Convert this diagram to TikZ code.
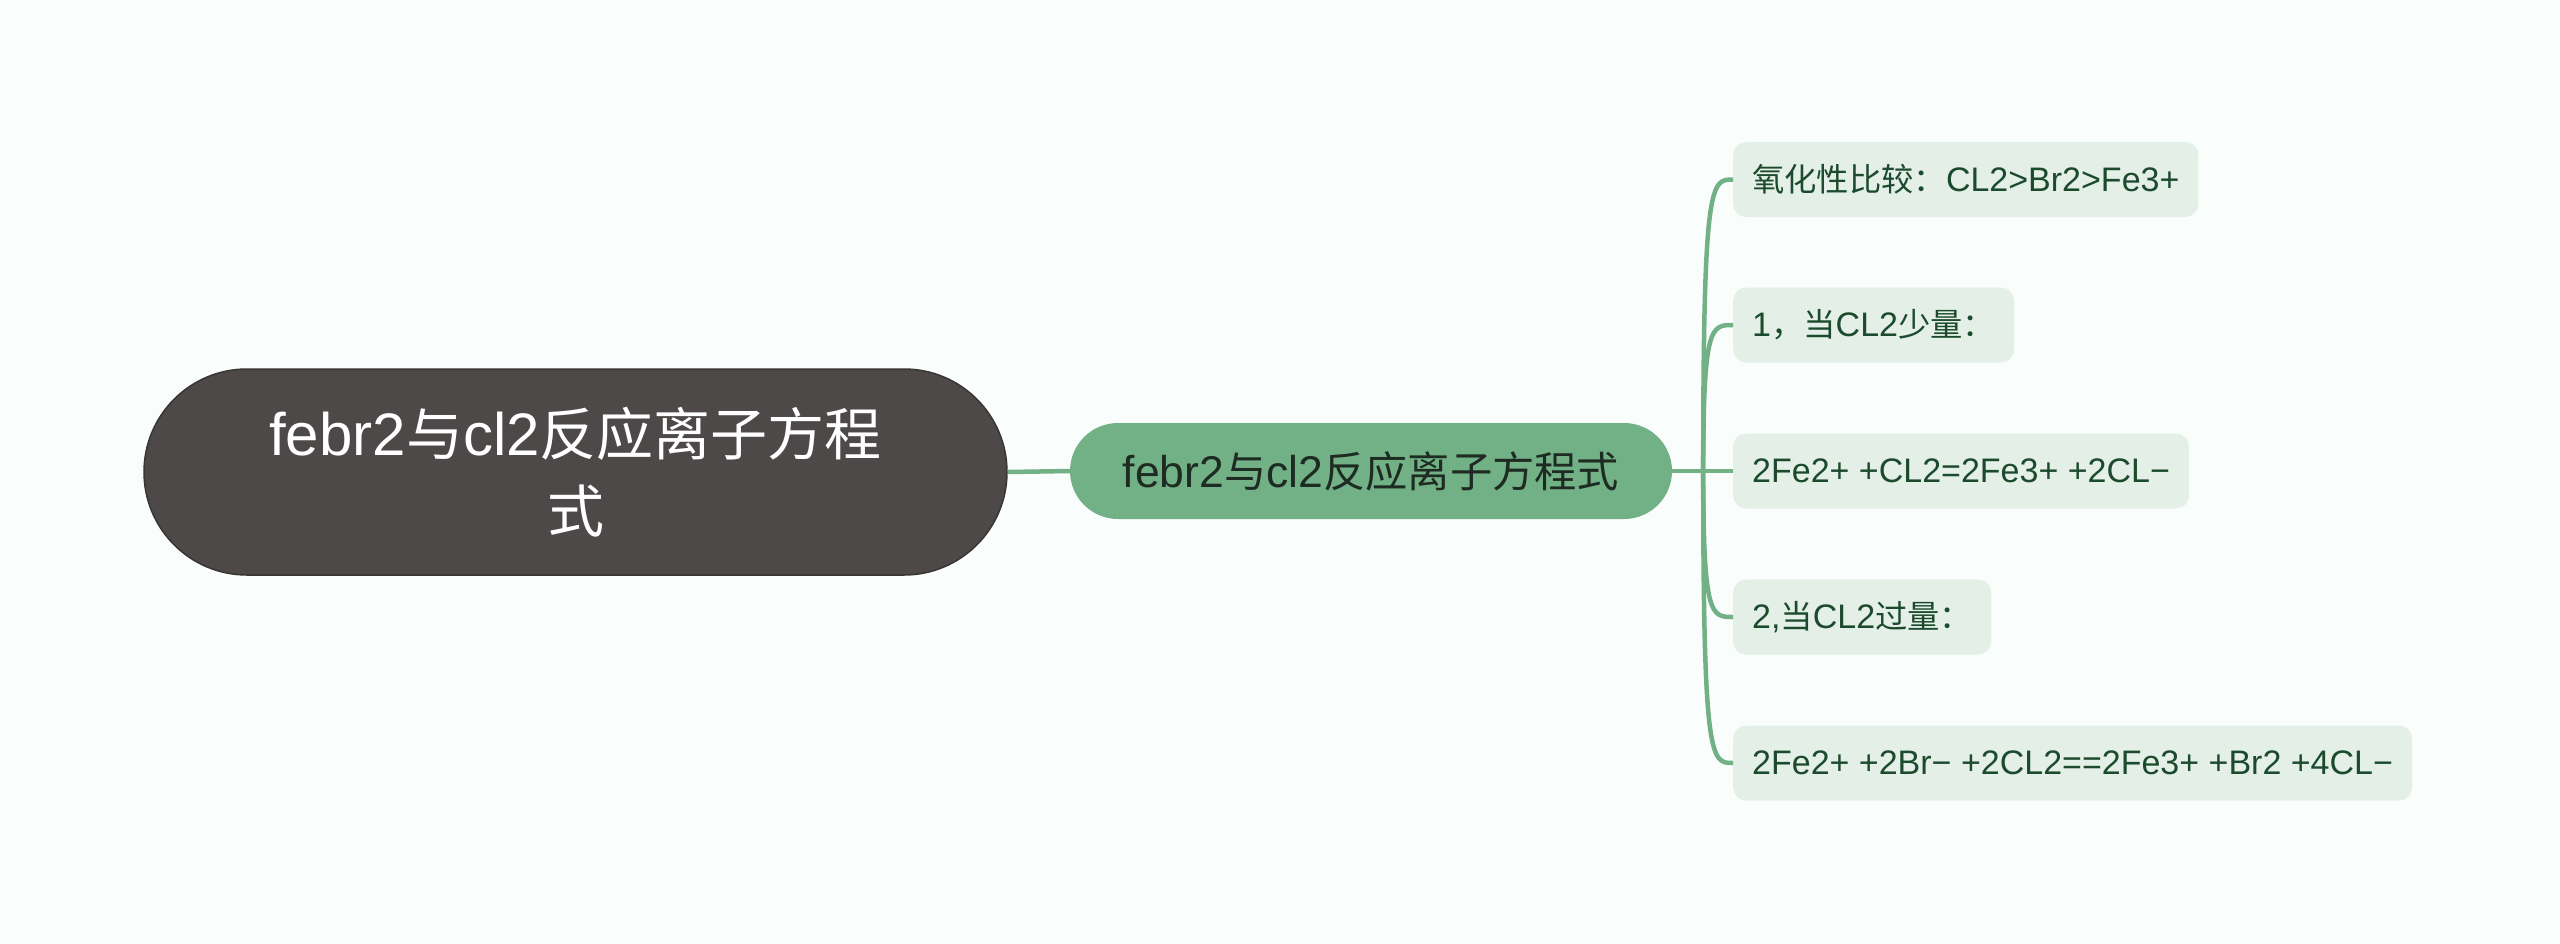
\documentclass[tikz,border=0pt]{standalone}
\usepackage{fontspec}
\setmainfont{Liberation Sans}
\newfontfamily\cjk[Scale=0.95]{Noto Sans CJK SC}
\newcommand\zh[1]{{\cjk #1}}
\usetikzlibrary{shapes.misc,calc}
\definecolor{bg}{HTML}{F9FDFC}
\definecolor{rootfill}{HTML}{4E4949}
\definecolor{rootdraw}{HTML}{3A3535}
\definecolor{midfill}{HTML}{72B085}
\definecolor{midtext}{HTML}{1E2B22}
\definecolor{leaffill}{HTML}{E3EFE7}
\definecolor{leaftext}{HTML}{1C4A2C}
\definecolor{linkc}{HTML}{72B085}
\begin{document}
\begin{tikzpicture}[x=1pt,y=-1pt,
  rootbox/.style={rounded rectangle, fill=rootfill, draw=rootdraw, line width=1.5pt, minimum width=863pt, minimum height=206pt, text=white, align=center, font=\fontsize{60}{77}\selectfont, inner sep=0pt},
  midbox/.style={rounded rectangle, fill=midfill, minimum width=602pt, minimum height=96pt, text=midtext, font=\fontsize{44.5}{50}\selectfont, inner sep=0pt},
  leafbox/.style={rectangle, rounded corners=13pt, fill=leaffill, minimum height=75pt, inner xsep=19pt, text=leaftext, font=\fontsize{34}{40}\selectfont, anchor=west},
  link/.style={draw=linkc, line width=4.5pt},
]
\fill[bg] (0,0) rectangle (2560,943);
\useasboundingbox (0,0) rectangle (2560,943);

\node[rootbox] (root) at (575.5,472) {febr2\zh{与}cl2\zh{反应离子方程}\\\zh{式}};
\node[midbox] (mid) at (1371,471) {febr2\zh{与}cl2\zh{反应离子方程式}};

\node[leafbox] (l1) at (1733,179.5) {\zh{氧化性比较：}CL2>Br2>Fe3+};
\node[leafbox] (l2) at (1733,325) {1\zh{，当}CL2\zh{少量：}};
\node[leafbox] (l3) at (1733,471) {2Fe2+ +CL2=2Fe3+ +2CL−};
\node[leafbox] (l4) at (1733,617) {2,\zh{当}CL2\zh{过量：}};
\node[leafbox] (l5) at (1733,763) {2Fe2+ +2Br− +2CL2==2Fe3+ +Br2 +4CL−};

\coordinate (trunk) at ($(mid.east)+(31,0)$);

\draw[link] (root.east) -- (mid.west);
\draw[link] (mid.east) -- (l3.west);
\foreach \n in {l1,l2,l4,l5}{
  \draw[link] (trunk) .. controls ($(trunk |- \n.west)$) and ($(\n.west)+(-22,0)$) .. (\n.west);
}
\end{tikzpicture}
\end{document}
